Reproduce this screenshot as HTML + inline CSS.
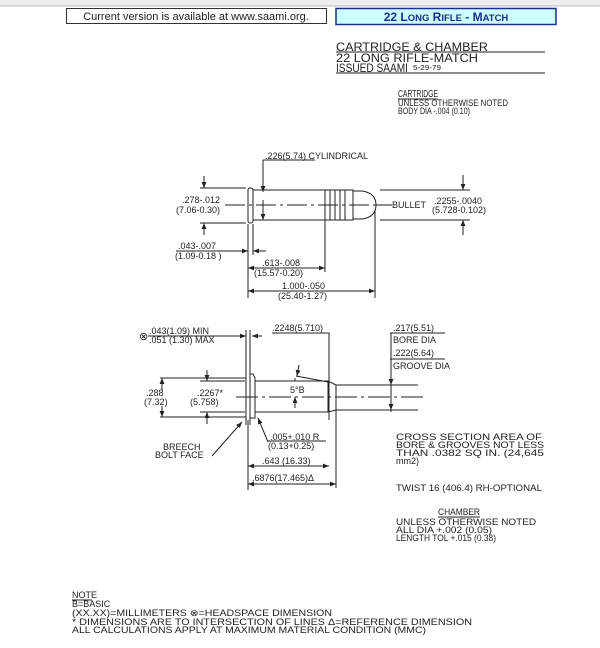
<!DOCTYPE html>
<html><head><meta charset="utf-8"><style>
html,body{margin:0;padding:0;background:#fff;}
svg{display:block;}
text{font-family:"Liberation Sans",sans-serif;font-size:9px;fill:#222;}
.t{font-size:12px;}
</style></head><body>
<svg width="600" height="648" viewBox="0 0 600 648" xmlns="http://www.w3.org/2000/svg">
<defs>
<marker id="a" viewBox="0 0 10 10" refX="10" refY="5" markerWidth="6" markerHeight="6" orient="auto-start-reverse"><path d="M0,1 L10,5 L0,9 z" fill="#222"/></marker>
</defs>
<rect x="0" y="0" width="600" height="6" fill="#eee"/>
<line x1="0" y1="6" x2="600" y2="6" stroke="#bbb"/>
<rect x="66.5" y="8.5" width="260" height="15" fill="#fff" stroke="#333"/>
<text x="196" y="20" text-anchor="middle" style="font-size:11px">Current version is available at www.saami.org.</text>
<rect x="336" y="8.5" width="220" height="16" fill="#ccffff" stroke="#1a2f8a" stroke-width="1.5"/>
<text x="446" y="21" text-anchor="middle" style="font-size:12px;font-weight:bold;fill:#1a2f8a">22 L<tspan style="font-size:9.5px">ONG</tspan> R<tspan style="font-size:9.5px">IFLE</tspan> - M<tspan style="font-size:9.5px">ATCH</tspan></text>

<g stroke="#222" stroke-width="1" fill="none">
<line x1="336" y1="52" x2="545" y2="52"/>
<line x1="336" y1="73" x2="545" y2="73"/>
<line x1="398" y1="99" x2="438" y2="99"/>
</g>
<g lengthAdjust="spacingAndGlyphs">
<text class="t" x="336" y="51" textLength="152" lengthAdjust="spacingAndGlyphs">CARTRIDGE &amp; CHAMBER</text>
<text class="t" x="336" y="62" textLength="142" lengthAdjust="spacingAndGlyphs">22 LONG RIFLE-MATCH</text>
<text class="t" x="336" y="72" textLength="72" lengthAdjust="spacingAndGlyphs">ISSUED SAAMI</text>
<text x="413" y="70" style="font-size:7px" textLength="28" lengthAdjust="spacingAndGlyphs">5-29-79</text>
<text x="398" y="97" style="font-size:10px" textLength="40" lengthAdjust="spacingAndGlyphs">CARTRIDGE</text>
<text x="398" y="106" style="font-size:9.5px" textLength="110" lengthAdjust="spacingAndGlyphs">UNLESS OTHERWISE NOTED</text>
<text x="398" y="114" style="font-size:9.5px" textLength="72" lengthAdjust="spacingAndGlyphs">BODY DIA -.004 (0.10)</text>
</g>

<!-- CARTRIDGE -->
<g stroke="#222" stroke-width="1" fill="none">
<rect x="248" y="188" width="5" height="35" rx="2"/>
<path d="M253,190 H325 M253,220 H325"/>
<rect x="325" y="190" width="28" height="30"/>
<path d="M330,190V220 M335,190V220 M340,190V220 M345,190V220"/>
<path d="M353,191 H362 Q376,193 376,205 Q376,217 362,219 H353"/>
<path d="M225,205 H390" stroke-dasharray="20,4,3,4"/>
<path d="M200,188 H246 M200,223 H246"/>
<line x1="204" y1="176" x2="204" y2="188" marker-end="url(#a)"/>
<line x1="204" y1="235" x2="204" y2="223" marker-end="url(#a)"/>
<path d="M380,190 H470 M380,220 H470"/>
<line x1="463" y1="175" x2="463" y2="190" marker-end="url(#a)"/>
<line x1="463" y1="235" x2="463" y2="220" marker-end="url(#a)"/>
<path d="M263,160 H315"/>
<line x1="263" y1="160" x2="263" y2="192" marker-end="url(#a)"/>
<line x1="263" y1="200" x2="263" y2="220" marker-end="url(#a)"/>
<path d="M376,205 H392"/>
<path d="M176,251 H238"/>
<line x1="236" y1="251" x2="248" y2="251" marker-end="url(#a)"/>
<line x1="266" y1="251" x2="253" y2="251" marker-end="url(#a)"/>
<path d="M248,224 V298 M325,220 V272 M375,210 V298 M253,224 V255"/>
<line x1="248" y1="268" x2="325" y2="268" marker-start="url(#a)" marker-end="url(#a)"/>
<line x1="248" y1="291" x2="375" y2="291" marker-start="url(#a)" marker-end="url(#a)"/>
</g>
<text x="265" y="159">.226(5.74) CYLINDRICAL</text>
<text x="182" y="203">.278-.012</text>
<text x="176" y="213">(7.06-0.30)</text>
<text x="392" y="208">BULLET</text>
<text x="434" y="204">.2255-.0040</text>
<text x="432" y="213">(5.728-0.102)</text>
<text x="178" y="249">.043-.007</text>
<text x="175" y="259">(1.09-0.18 )</text>
<text x="262" y="266">.613-.008</text>
<text x="254" y="276">(15.57-0.20)</text>
<text x="282" y="289">1.000-.050</text>
<text x="278" y="299">(25.40-1.27)</text>

<!-- CHAMBER -->
<g stroke="#222" stroke-width="1" fill="none">
<path d="M246,330 V425 M250,330 V425" />
<path d="M250,374 H253 L255,378 V412 L255,418 H250"/>
<path d="M255,381 H328 L336,385 H418 M255,412 H328 L336,410 H418 M328,381 V412 M336,385 V410"/>
<path d="M236,397 H425" stroke-dasharray="22,4,3,4"/>
<path d="M160,378 H246 M160,417 H246 M200,381 H245 M200,412 H245"/>
<line x1="162" y1="390" x2="162" y2="378" marker-end="url(#a)"/>
<line x1="162" y1="406" x2="162" y2="417" marker-end="url(#a)"/>
<line x1="207" y1="370" x2="207" y2="381" marker-end="url(#a)"/>
<line x1="207" y1="424" x2="207" y2="412" marker-end="url(#a)"/>
<path d="M148,336 H240"/>
<line x1="236" y1="336" x2="246" y2="336" marker-end="url(#a)"/>
<line x1="262" y1="336" x2="252" y2="336" marker-end="url(#a)"/>
<path d="M272,333 H329 V420 M390,333 H445 M390,359 H445 M391,333 V412 M336,410 V488"/>
<line x1="391" y1="370" x2="391" y2="385" marker-end="url(#a)"/>
<line x1="391" y1="400" x2="391" y2="410" marker-end="url(#a)"/>
<path d="M296,376 L328,382"/>
<line x1="299" y1="365" x2="297" y2="376" marker-end="url(#a)"/>
<line x1="295" y1="378" x2="295" y2="381" />
<line x1="295" y1="408" x2="295" y2="397" marker-end="url(#a)"/>
<path d="M212,456 L242,422" marker-end="url(#a)"/>
<path d="M268,442 L258,418" marker-end="url(#a)"/>
<path d="M268,441 H326"/>
<path d="M248,420 V490"/>
<line x1="248" y1="466" x2="329" y2="466" marker-start="url(#a)" marker-end="url(#a)"/>
<line x1="248" y1="484" x2="336" y2="484" marker-start="url(#a)" marker-end="url(#a)"/>
</g>
<text x="139" y="340" style="font-size:11px">⊗</text>
<text x="149" y="334">.043(1.09) MIN</text>
<text x="149" y="343">.051 (1.30) MAX</text>
<text x="272" y="331">.2248(5.710)</text>
<text x="393" y="331">.217(5.51)</text>
<text x="393" y="343">BORE DIA</text>
<text x="393" y="356">.222(5.64)</text>
<text x="393" y="369">GROOVE DIA</text>
<text x="146" y="396">.288</text>
<text x="144" y="405">(7.32)</text>
<text x="197" y="396">.2267*</text>
<text x="190" y="405">(5.758)</text>
<text x="290" y="393">5°B</text>
<text x="163" y="450">BREECH</text>
<text x="155" y="458">BOLT FACE</text>
<text x="270" y="440">.005+.010 R</text>
<text x="268" y="449">(0.13+0.25)</text>
<text x="262" y="464">.643 (16.33)</text>
<text x="252" y="481">.6876(17.465)Δ</text>

<g style="font-size:9.5px">
<text x="396" y="440" textLength="146" lengthAdjust="spacingAndGlyphs">CROSS SECTION AREA OF</text>
<text x="396" y="448" textLength="148" lengthAdjust="spacingAndGlyphs">BORE &amp; GROOVES NOT LESS</text>
<text x="396" y="456" textLength="148" lengthAdjust="spacingAndGlyphs">THAN .0382  SQ IN. (24,645</text>
<text x="396" y="464">mm2)</text>
<text x="396" y="491" textLength="146" lengthAdjust="spacingAndGlyphs">TWIST 16 (406.4) RH-OPTIONAL</text>
<text x="438" y="515" textLength="42" lengthAdjust="spacingAndGlyphs">CHAMBER</text>
<text x="396" y="525" textLength="140" lengthAdjust="spacingAndGlyphs">UNLESS OTHERWISE NOTED</text>
<text x="396" y="533" textLength="96" lengthAdjust="spacingAndGlyphs">ALL DIA +.002 (0.05)</text>
<text x="396" y="541" textLength="100" lengthAdjust="spacingAndGlyphs">LENGTH TOL +.015 (0.38)</text>
</g>
<line x1="438" y1="517" x2="480" y2="517" stroke="#222"/>

<g style="font-size:9.5px">
<text x="72" y="598">NOTE</text>
<text x="72" y="607">B=BASIC</text>
<text x="72" y="616" textLength="260" lengthAdjust="spacingAndGlyphs">(XX.XX)=MILLIMETERS      ⊗=HEADSPACE DIMENSION</text>
<text x="72" y="625" textLength="400" lengthAdjust="spacingAndGlyphs">* DIMENSIONS ARE TO INTERSECTION OF LINES       Δ=REFERENCE DIMENSION</text>
<text x="72" y="633" textLength="354" lengthAdjust="spacingAndGlyphs">ALL CALCULATIONS APPLY AT MAXIMUM MATERIAL CONDITION (MMC)</text>
</g>
<line x1="72" y1="600" x2="92" y2="600" stroke="#222"/>
</svg>
</body></html>
